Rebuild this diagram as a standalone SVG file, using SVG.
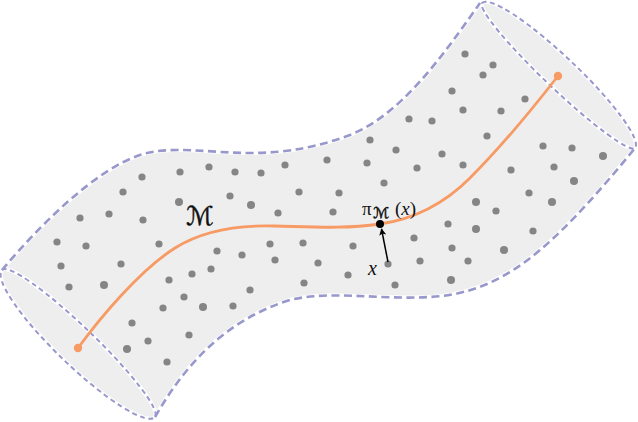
<svg xmlns="http://www.w3.org/2000/svg" width="638" height="422" viewBox="0 0 638 422">
<defs>
<style>
.fill{fill:#eeeeee;stroke:none}
.halo{fill:none;stroke:#ffffff;stroke-width:4;stroke-linejoin:round}
.dash{fill:none;stroke:#9898cc;stroke-width:2.6;stroke-dasharray:8 4.5}
.dashc{fill:none;stroke:#9898cc;stroke-width:2;stroke-dasharray:5 3.5}
.dot{fill:#858585}
.curve{fill:none;stroke:#f79a64;stroke-width:2.8;stroke-linecap:round}
.end{fill:#f79a64}
.lbl{font-family:"Liberation Serif","DejaVu Serif",serif;font-style:italic;fill:#111}
.up{font-family:"Liberation Serif","DejaVu Serif",serif;font-style:normal;fill:#111}
.cal{font-family:"DejaVu Sans","Noto Sans",sans-serif;font-style:normal;fill:#111;stroke:#111;stroke-width:0.5}
</style>
<marker id="arr" viewBox="0 0 10 10" refX="9" refY="5" markerWidth="7" markerHeight="7" orient="auto" markerUnits="userSpaceOnUse">
<path d="M0,0 L10,5 L0,10 L2.5,5 Z" fill="#000"/>
</marker>
</defs>

<g id="tube">
<path class="fill" d="M2,270 C40,225 95,170 140,155 C170,145 210,153 250,153 C290,153 320,146 350,135 C400,115 440,60 480,3 L635,148 C605,185 570,225 540,250 C505,280 470,295 430,297 C380,300 330,290 290,300 C225,320 185,365 155,417 Z"/>
<path id="capL" class="fill" d="M2,270 A106,16 43.9 0 1 155,417 A106,22 43.9 0 1 2,270 Z"/>
<path id="capR" class="fill" d="M482,3 A105.4,19 43.5 0 1 635,148 A105.4,13 43.5 0 1 482,3 Z"/>
<g id="outline">
<path class="halo" d="M2,270 C40,225 95,170 140,155 C170,145 210,153 250,153 C290,153 320,146 350,135 C400,115 440,60 480,3"/>
<path class="halo" d="M155,417 C185,365 225,320 290,300 C330,290 380,300 430,297 C470,295 505,280 540,250 C570,225 605,185 635,148"/>
<path class="halo" d="M2,270 A106,16 43.9 0 1 155,417 A106,22 43.9 0 1 2,270 Z"/>
<path class="halo" d="M482,3 A105.4,19 43.5 0 1 635,148 A105.4,13 43.5 0 1 482,3 Z"/>
<path class="dash" d="M2,270 C40,225 95,170 140,155 C170,145 210,153 250,153 C290,153 320,146 350,135 C400,115 440,60 480,3"/>
<path class="dash" d="M155,417 C185,365 225,320 290,300 C330,290 380,300 430,297 C470,295 505,280 540,250 C570,225 605,185 635,148"/>
<path class="dashc" d="M2,270 A106,16 43.9 0 1 155,417 A106,22 43.9 0 1 2,270 Z"/>
<path class="dashc" d="M482,3 A105.4,19 43.5 0 1 635,148 A105.4,13 43.5 0 1 482,3 Z"/>
</g>
</g>

<g id="samples">
<circle class="dot" cx="465" cy="54" r="3.6"/><circle class="dot" cx="493" cy="65" r="3.6"/><circle class="dot" cx="483" cy="75" r="3.6"/>
<circle class="dot" cx="452" cy="91" r="3.6"/><circle class="dot" cx="525" cy="99" r="3.6"/><circle class="dot" cx="463" cy="110" r="3.6"/>
<circle class="dot" cx="501" cy="111" r="3.6"/><circle class="dot" cx="409" cy="119" r="3.6"/><circle class="dot" cx="432" cy="121" r="3.6"/>
<circle class="dot" cx="487" cy="136" r="3.6"/><circle class="dot" cx="370" cy="140" r="3.6"/><circle class="dot" cx="396" cy="150" r="3.6"/>
<circle class="dot" cx="543" cy="146" r="3.6"/><circle class="dot" cx="572" cy="148" r="3.6"/><circle class="dot" cx="603" cy="156" r="4"/>
<circle class="dot" cx="442" cy="154" r="3.6"/><circle class="dot" cx="327" cy="160" r="3.6"/><circle class="dot" cx="367" cy="163" r="3.6"/>
<circle class="dot" cx="417" cy="168" r="3.6"/><circle class="dot" cx="463" cy="165" r="3.6"/><circle class="dot" cx="511" cy="170" r="3.6"/>
<circle class="dot" cx="554" cy="167" r="3.6"/><circle class="dot" cx="574" cy="181" r="4"/><circle class="dot" cx="384" cy="183" r="3.6"/>
<circle class="dot" cx="142" cy="177" r="3.6"/><circle class="dot" cx="180" cy="172" r="3.6"/><circle class="dot" cx="209" cy="167" r="3.6"/>
<circle class="dot" cx="235" cy="172" r="3.6"/><circle class="dot" cx="261" cy="173" r="3.6"/><circle class="dot" cx="285" cy="165" r="3.6"/>
<circle class="dot" cx="123" cy="192" r="3.6"/><circle class="dot" cx="179" cy="202" r="4"/><circle class="dot" cx="230" cy="196" r="3.6"/>
<circle class="dot" cx="251" cy="205" r="4"/><circle class="dot" cx="299" cy="192" r="3.6"/><circle class="dot" cx="339" cy="193" r="3.6"/>
<circle class="dot" cx="476" cy="202" r="4"/><circle class="dot" cx="529" cy="193" r="3.6"/><circle class="dot" cx="552" cy="202" r="4"/>
<circle class="dot" cx="80" cy="218" r="3.6"/><circle class="dot" cx="109" cy="214" r="3.6"/><circle class="dot" cx="143" cy="220" r="3.6"/>
<circle class="dot" cx="278" cy="213" r="3.6"/><circle class="dot" cx="333" cy="212" r="3.6"/><circle class="dot" cx="496" cy="211" r="3.6"/>
<circle class="dot" cx="448" cy="224" r="3.6"/><circle class="dot" cx="476" cy="229" r="4"/><circle class="dot" cx="533" cy="231" r="3.6"/>
<circle class="dot" cx="57" cy="242" r="3.6"/><circle class="dot" cx="86" cy="246" r="3.6"/><circle class="dot" cx="159" cy="244" r="3.6"/>
<circle class="dot" cx="270" cy="244" r="3.6"/><circle class="dot" cx="303" cy="243" r="3.6"/><circle class="dot" cx="353" cy="246" r="3.6"/>
<circle class="dot" cx="414" cy="238" r="3.6"/><circle class="dot" cx="452" cy="248" r="3.6"/><circle class="dot" cx="504" cy="250" r="4"/>
<circle class="dot" cx="217" cy="251" r="3.6"/><circle class="dot" cx="242" cy="255" r="3.6"/><circle class="dot" cx="61" cy="266" r="3.6"/>
<circle class="dot" cx="121" cy="264" r="3.6"/><circle class="dot" cx="275" cy="260" r="3.6"/><circle class="dot" cx="318" cy="263" r="3.6"/>
<circle class="dot" cx="420" cy="261" r="3.6"/><circle class="dot" cx="468" cy="261" r="3.6"/>
<circle class="dot" cx="69" cy="287" r="3.6"/><circle class="dot" cx="104" cy="285" r="4"/><circle class="dot" cx="169" cy="280" r="3.6"/>
<circle class="dot" cx="192" cy="274" r="3.6"/><circle class="dot" cx="211" cy="269" r="3.6"/><circle class="dot" cx="304" cy="283" r="3.6"/>
<circle class="dot" cx="348" cy="275" r="3.6"/><circle class="dot" cx="395" cy="285" r="3.6"/><circle class="dot" cx="451" cy="280" r="4"/>
<circle class="dot" cx="184" cy="297" r="3.6"/><circle class="dot" cx="250" cy="290" r="3.6"/><circle class="dot" cx="163" cy="308" r="3.6"/>
<circle class="dot" cx="203" cy="307" r="4"/><circle class="dot" cx="233" cy="306" r="3.6"/><circle class="dot" cx="132" cy="323" r="3.6"/>
<circle class="dot" cx="189" cy="335" r="3.6"/><circle class="dot" cx="148" cy="341" r="3.6"/><circle class="dot" cx="127" cy="349" r="4"/>
<circle class="dot" cx="167" cy="362" r="3.6"/>
</g>

<g id="manifold">
<path class="curve" d="M78,348 C100,318 140,270 175,248 C205,229 240,225 275,226 C315,227 345,229 380,224 C415,219 445,203 470,178 C495,153 530,112 558,76"/>
<circle class="end" cx="78" cy="348" r="4.2"/>
<circle class="end" cx="558" cy="76" r="4.2"/>
<text class="cal" x="186" y="225" font-size="26">ℳ</text>
</g>

<g id="point-x">
<circle class="dot" cx="388" cy="264" r="3.6"/>
<text class="lbl" x="368" y="275" font-size="20">x</text>
</g>

<g id="proj">
<circle cx="380" cy="224" r="4" fill="#000"/>
<text class="up" x="362" y="215" font-size="19">π</text>
<text class="cal" x="373" y="218" font-size="15" stroke-width="0.3">ℳ</text>
<text class="up" x="395" y="215" font-size="19">(<tspan class="lbl">x</tspan>)</text>
</g>

<g id="connectors">
<line x1="388" y1="262" x2="381.5" y2="229" stroke="#000" stroke-width="1.5" marker-end="url(#arr)"/>
</g>
</svg>
